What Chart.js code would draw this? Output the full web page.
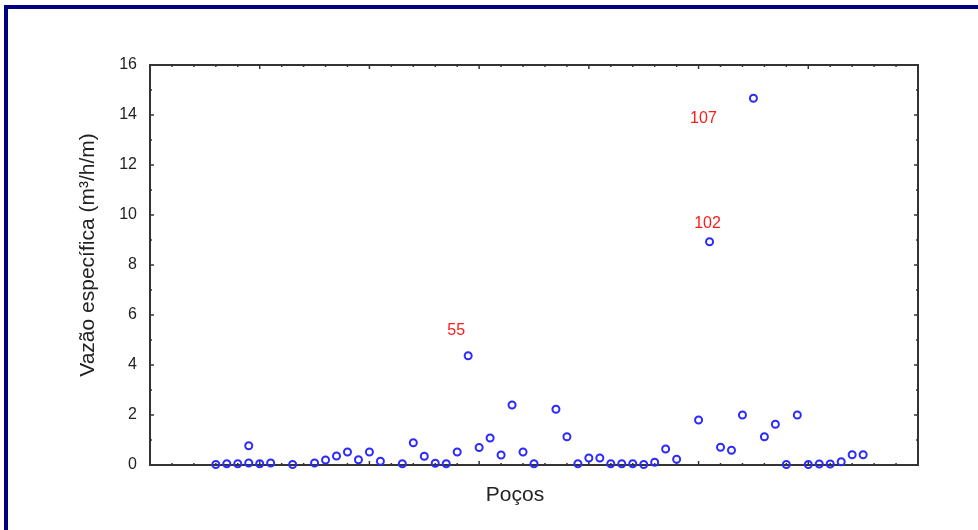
<!DOCTYPE html>
<html lang="pt">
<head>
<meta charset="utf-8">
<title>Vazão específica dos poços</title>
<script src="https://cdn.jsdelivr.net/npm/chart.js@4"></script>
<style>
    html, body { margin: 0; padding: 0; background: #fff; overflow: hidden; }
    .panel { position: relative; width: 978px; height: 530px; }
    .frame { position: absolute; left: 4px; top: 5px; width: 1000px; height: 600px; border-left: 4px solid #000080; border-top: 4px solid #000080; box-sizing: border-box; }
    canvas { position: absolute; left: 0; top: 0; }
</style>
</head>
<body>
<div class="panel">
    <div class="frame"></div>
    <canvas id="vazaoChart" width="978" height="530"></canvas>
</div>
<script>
    // posição do poço na série e vazão específica (m3/h/m)
    const wellIndex = [6, 7, 8, 9, 9, 10, 11, 13, 15, 16, 17, 18, 19, 20, 21, 23, 24, 25, 26, 27, 28, 29, 30, 31, 32, 33, 34, 35,
        37, 38, 39, 40, 41, 42, 43, 44, 45, 46, 47, 48, 50, 51, 52, 53, 54, 55, 56, 57, 58, 59, 60, 61, 62, 63, 64, 65];
    const specificYield = [0.02, 0.05, 0.05, 0.08, 0.77, 0.05, 0.08, 0.02, 0.08, 0.2, 0.36, 0.52, 0.21, 0.52, 0.15, 0.05, 0.89, 0.35, 0.07, 0.05, 0.52, 4.37, 0.7, 1.08, 0.4, 2.4, 0.52, 0.05,
        2.23, 1.13, 0.05, 0.28, 0.28, 0.05, 0.05, 0.05, 0.02, 0.11, 0.64, 0.23, 1.8, 8.93, 0.71, 0.59, 2.0, 14.67, 1.13, 1.63, 0.02, 2.0, 0.02, 0.04, 0.04, 0.13, 0.41, 0.41];

    // poços destacados (número do poço e posição na série)
    const outlierLabels = ['55', '102', '107'];
    const outlierIndex = [29, 51, 55];

    const yTicks = [0, 2, 4, 6, 8, 10, 12, 14, 16];
    const xTitle = 'Poços';
    const yTitle = 'Vazão específica (m³/h/m)';

    const points = wellIndex.map((x, i) => ({ x: x, y: specificYield[i] }));
    const FONT = '"Liberation Sans", Arial, sans-serif';

    // moldura do gráfico com marcas internas nos quatro lados
    const frameTicks = {
        id: 'frameTicks',
        beforeDatasetsDraw(chart) {
            const { ctx, chartArea: a, scales: { x, y } } = chart;
            ctx.save();
            ctx.strokeStyle = '#333';
            ctx.lineWidth = 1.5;

            const xs = x.ticks.map(t => t.value);
            for (let i = 0; i < xs.length; i++) {
                const px = x.getPixelForValue(xs[i]);
                tick(px, a.bottom, 0, -4);
                tick(px, a.top, 0, 4);
                if (i < xs.length - 1) {
                    const step = (xs[i + 1] - xs[i]) / 5;
                    for (let k = 1; k < 5; k++) {
                        const mx = x.getPixelForValue(xs[i] + step * k);
                        tick(mx, a.bottom, 0, -2);
                        tick(mx, a.top, 0, 2);
                    }
                }
            }
            const ys = y.ticks.map(t => t.value);
            for (let i = 0; i < ys.length; i++) {
                const py = y.getPixelForValue(ys[i]);
                tick(a.left, py, 4, 0);
                tick(a.right, py, -4, 0);
                if (i < ys.length - 1) {
                    const my = y.getPixelForValue((ys[i] + ys[i + 1]) / 2);
                    tick(a.left, my, 2, 0);
                    tick(a.right, my, -2, 0);
                }
            }

            ctx.lineWidth = 2;
            ctx.strokeRect(a.left, a.top, a.right - a.left, a.bottom - a.top);
            ctx.restore();

            function tick(px, py, dx, dy) {
                ctx.beginPath();
                ctx.moveTo(px, py);
                ctx.lineTo(px + dx, py + dy);
                ctx.stroke();
            }
        }
    };

    // títulos dos eixos
    const axisTitles = {
        id: 'axisTitles',
        afterDraw(chart) {
            const { ctx, chartArea: a } = chart;
            const midX = (a.left + a.right) / 2;
            const midY = (a.top + a.bottom) / 2;
            ctx.save();
            ctx.fillStyle = '#222';
            ctx.textAlign = 'center';
            ctx.textBaseline = 'middle';
            ctx.font = '21px ' + FONT;
            ctx.fillText(xTitle, midX - 19, a.bottom + 30);
            ctx.translate(a.left - 62, midY - 10);
            ctx.rotate(-Math.PI / 2);
            ctx.fillText(yTitle, 0, 0);
            ctx.restore();
        }
    };

    // rótulos vermelhos dos poços com vazão elevada
    const outlierText = {
        id: 'outlierText',
        afterDatasetsDraw(chart) {
            const { ctx, scales: { x, y } } = chart;
            const shift = [[-12, -25], [-2, -18], [-50, 20]];
            ctx.save();
            ctx.fillStyle = '#ff1a1a';
            ctx.font = '16px ' + FONT;
            ctx.textAlign = 'center';
            ctx.textBaseline = 'middle';
            outlierLabels.forEach((txt, i) => {
                const k = wellIndex.indexOf(outlierIndex[i]);
                const px = x.getPixelForValue(wellIndex[k]);
                const py = y.getPixelForValue(specificYield[k]);
                ctx.fillText(txt, px + shift[i][0], py + shift[i][1]);
            });
            ctx.restore();
        }
    };

    new Chart(document.getElementById('vazaoChart').getContext('2d'), {
        type: 'scatter',
        data: {
            datasets: [{
                data: points,
                borderColor: '#2b2bff',
                backgroundColor: 'rgba(255,255,255,0)',
                pointRadius: 3.5,
                pointBorderWidth: 2,
                clip: false
            }]
        },
        options: {
            responsive: false,
            animation: false,
            events: [],
            layout: { padding: { top: 65, right: 60, left: 0, bottom: 0 } },
            plugins: { legend: { display: false }, tooltip: { enabled: false } },
            scales: {
                x: {
                    type: 'linear',
                    min: 0,
                    max: 70,
                    border: { display: false },
                    grid: { display: false },
                    ticks: { display: false, stepSize: 10 },
                    afterFit(scale) { scale.height = 65; }
                },
                y: {
                    min: 0,
                    max: 16,
                    border: { display: false },
                    grid: { display: false, drawTicks: false },
                    afterBuildTicks(scale) { scale.ticks = yTicks.map(v => ({ value: v })); },
                    ticks: {
                        padding: 13,
                        color: '#222',
                        font: { family: FONT, size: 16 }
                    },
                    afterFit(scale) { scale.width = 150; }
                }
            }
        },
        plugins: [frameTicks, axisTitles, outlierText]
    });
</script>
</body>
</html>
